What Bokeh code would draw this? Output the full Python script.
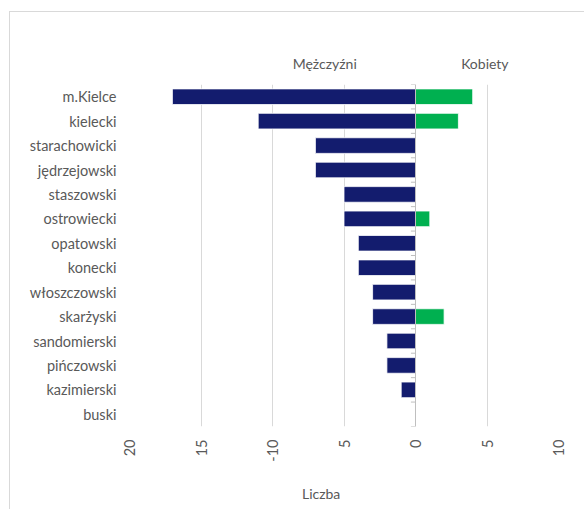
import math
from bokeh.plotting import figure
from bokeh.models import Range1d, FixedTicker, Span, LinearAxis
from bokeh.embed import file_html
from bokeh.resources import INLINE

districts = ["m.Kielce", "kielecki", "starachowicki", "jędrzejowski", "staszowski",
             "ostrowiecki", "opatowski", "konecki", "włoszczowski", "skarżyski",
             "sandomierski", "pińczowski", "kazimierski", "buski"]
men = [17, 11, 7, 7, 5, 5, 4, 4, 3, 3, 2, 2, 1, 0]
women = [4, 3, 0, 0, 0, 1, 0, 0, 0, 2, 0, 0, 0, 0]
x_ticks = [-20, -15, -10, -5, 0, 5, 10]
x_tick_labels = ["20", "15", "-10", "5", "0", "5", "10"]
series_names = ["Mężczyźni", "Kobiety"]
axis_title = "Liczba"

FONT = "Lato"
GREY = "#595959"
NAVY = "#131c6e"
GREEN = "#00b050"

n = len(districts)
ypos = list(range(n))

p = figure(width=575, height=498, output_backend="svg", toolbar_location=None,
           x_range=Range1d(-20, 10), y_range=Range1d(n - 0.5, -0.5),
           min_border_left=119, min_border_top=72, min_border_right=27,
           min_border_bottom=84, margin=(12, 0, 0, 10))
p.styles = {"box-shadow": "-1px -1px 0 0 #d9d9d9"}
p.outline_line_color = None
p.background_fill_color = "white"
p.border_fill_color = "white"

# grid
p.xgrid.ticker = FixedTicker(ticks=x_ticks)
p.xgrid.grid_line_color = "#d9d9d9"
p.ygrid.grid_line_color = None

# bars
p.hbar(y=ypos, left=[-v for v in men], right=0, height=0.64, fill_color=NAVY,
       line_color="white", line_width=0.8)
p.hbar(y=ypos, left=0, right=women, height=0.64, fill_color=GREEN,
       line_color="white", line_width=0.8)

# zero axis with ticks
p.add_layout(Span(location=0, dimension="height", line_color="#bfbfbf", line_width=1))
bounds = [i - 0.5 for i in range(n + 1)]
p.segment(x0=[-0.32] * len(bounds), x1=[0] * len(bounds), y0=bounds, y1=bounds,
          line_color="#bfbfbf", line_width=1)

def plain(ax, size):
    ax.axis_line_color = None
    ax.major_tick_line_color = None
    ax.minor_tick_line_color = None
    ax.major_label_text_font = FONT
    ax.major_label_text_font_size = size
    ax.major_label_text_color = GREY

# x axis
xa = p.xaxis[0]
xa.ticker = FixedTicker(ticks=x_ticks)
xa.major_label_overrides = {t: l for t, l in zip(x_ticks, x_tick_labels)}
xa.major_label_orientation = math.pi / 2
plain(xa, "14.5px")
xa.major_label_standoff = 7

# y axis
ya = p.yaxis[0]
ya.ticker = FixedTicker(ticks=ypos)
ya.major_label_overrides = {i: d for i, d in enumerate(districts)}
plain(ya, "14.5px")
ya.major_label_standoff = 7

# series headings (top) as an extra axis
head_pos = [-6.35, 4.85]
top = LinearAxis(ticker=FixedTicker(ticks=head_pos),
                 major_label_overrides={x: s for x, s in zip(head_pos, series_names)})
plain(top, "14px")
top.major_label_standoff = 7
p.add_layout(top, "above")

# axis title (bottom) as an extra axis
title_pos = [-6.6]
bot = LinearAxis(ticker=FixedTicker(ticks=title_pos),
                 major_label_overrides={title_pos[0]: axis_title})
plain(bot, "14px")
bot.major_label_standoff = 14
p.add_layout(bot, "below")

open("out.html", "w").write(file_html(p, INLINE))
